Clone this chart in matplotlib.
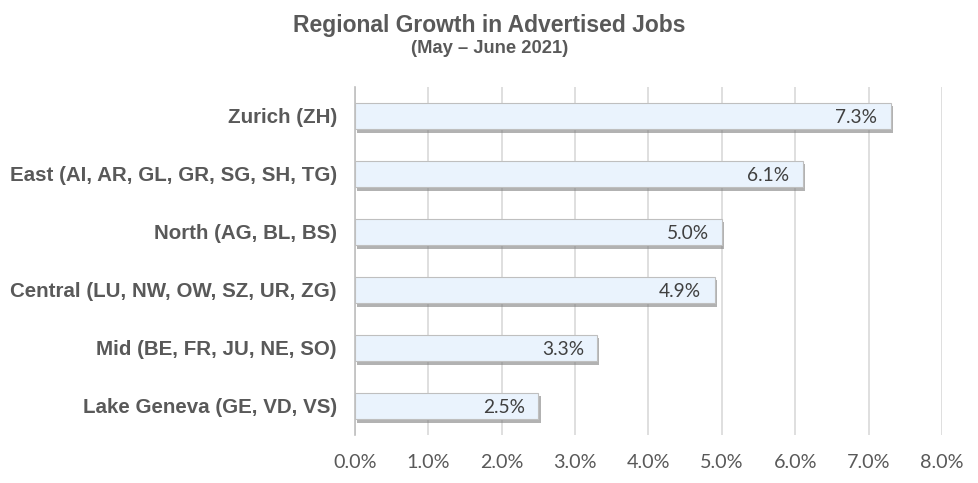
import matplotlib
matplotlib.use("Agg")
import matplotlib.pyplot as plt
import matplotlib.patheffects as pe
from matplotlib.ticker import FuncFormatter

regions = ["Zurich (ZH)", "East (AI, AR, GL, GR, SG, SH, TG)", "North (AG, BL, BS)",
           "Central (LU, NW, OW, SZ, UR, ZG)", "Mid (BE, FR, JU, NE, SO)",
           "Lake Geneva (GE, VD, VS)"]
growth = [7.3, 6.1, 5.0, 4.9, 3.3, 2.5]
xticks = [0, 1, 2, 3, 4, 5, 6, 7, 8]

fig = plt.figure(figsize=(9.79, 4.83), dpi=100)
ax = fig.add_axes([0.3626, 0.0994, 0.5996, 0.7205])

ypos = list(range(len(regions)))
bars = ax.barh(ypos, growth, height=0.46, color="#EAF3FD", edgecolor="#BFBFBF",
               linewidth=0.8, zorder=3)
for b in bars:
    b.set_path_effects([pe.SimplePatchShadow(offset=(1.5, -2.5), shadow_rgbFace="#7F7F7F", alpha=0.6),
                        pe.Normal()])

for y, v in zip(ypos, growth):
    ax.text(v - 0.18, y + 0.03, f"{v:.1f}%", ha="right", va="center", fontsize=13.8,
            color="#404040", family="Lato", zorder=4)

ax.set_ylim(len(regions) - 0.5, -0.5)
ax.set_xlim(0, 8)
ax.set_xticks(xticks)
ax.xaxis.set_major_formatter(FuncFormatter(lambda v, p: f"{v:.1f}%"))
ax.set_yticks(ypos)
ax.set_yticklabels(regions, fontsize=14.8, fontweight="bold", color="#595959",
                   family="Liberation Sans")
for lab in ax.get_xticklabels():
    lab.set_family("Lato")
    lab.set_fontsize(14.2)
    lab.set_color("#595959")
ax.tick_params(axis="both", length=0)
ax.tick_params(axis="x", pad=14)
ax.tick_params(axis="y", pad=13)
ax.grid(axis="x", color="#D9D9D9", linewidth=1.2, zorder=0)
for s in ["top", "right", "bottom"]:
    ax.spines[s].set_visible(False)
ax.spines["left"].set_color("#BFBFBF")
ax.spines["left"].set_linewidth(1.2)

fig.text(0.500, 0.948, "Regional Growth in Advertised Jobs", ha="center", va="center",
         fontsize=16.5, fontweight="bold", color="#595959", family="Liberation Sans")
fig.text(0.500, 0.900, "(May \u2013 June 2021)", ha="center", va="center",
         fontsize=13.2, fontweight="bold", color="#595959", family="Liberation Sans")

fig.savefig("out.png", dpi=100)
